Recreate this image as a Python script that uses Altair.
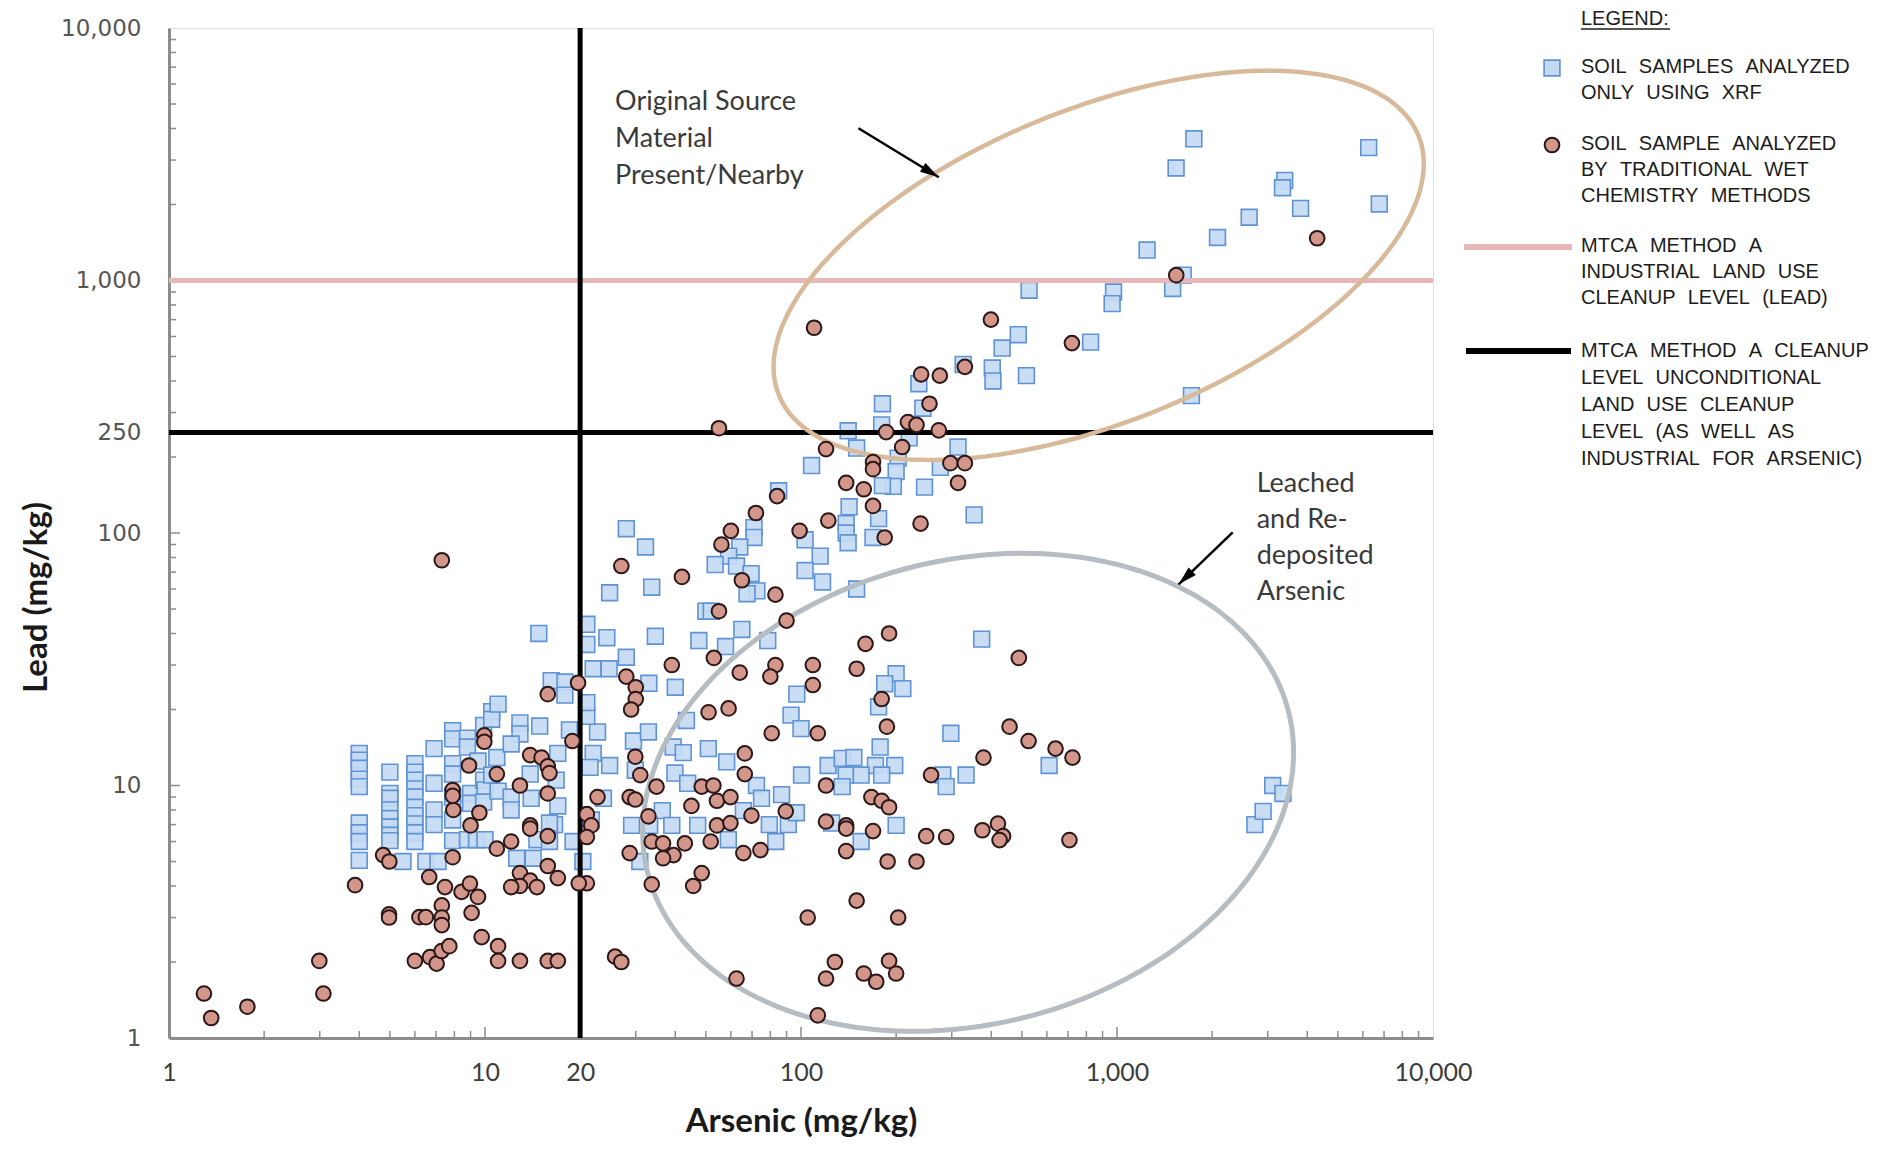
import altair as alt
import pandas as pd
import numpy as np

# ---------------- data (mg/kg) ----------------
# Soil samples analyzed only using XRF: (arsenic, lead)
xrf_samples = [
    (4, 13.4), (4, 12.6), (4, 11.7), (4, 10.6), (4, 9.9), (4, 7.1), (4, 6.5), (4, 6.0), (4, 5.05),
    (5, 11.3), (5, 9.3), (5, 8.9), (5, 8.0), (5, 7.4), (5, 6.85), (5, 6.35), (5, 6.05), (5.5, 5.0),
    (6, 12.2), (6, 11.3), (6, 10.5), (6, 9.7), (6, 9.0), (6, 8.2), (6, 7.6), (6, 7.05), (6, 6.5), (6, 6.0),
    (6.5, 5.0), (7.1, 5.0), (6.9, 14.0), (6.9, 10.2), (6.9, 8.0), (6.9, 7.0),
    (7.9, 16.5), (7.9, 15.3), (7.9, 12.2), (7.9, 11.1), (7.9, 9.0), (7.9, 7.3), (7.9, 6.05),
    (8.8, 15.4), (8.8, 14.2), (9.0, 9.3), (9.0, 8.5), (8.8, 6.1), (9.4, 6.1), (10, 6.1), (9.9, 17.3),
    (10.5, 19.6), (10.5, 18.3), (10.9, 12.9), (9.9, 10.5), (10, 9.6), (9.9, 8.6), (9.5, 12.5),
    (10.5, 11), (11, 9.5), (11, 21),
    (12.9, 17.7), (14.9, 17.2), (12.9, 16.0), (12.1, 14.6), (17, 13.4), (18.5, 16.6), (22.7, 16.3), (21, 18.8),
    (13.9, 11.1), (12.1, 9.0), (12.1, 8.0), (16.8, 10.5), (17, 8.3), (16.6, 7.0), (14, 8.9), (16, 7.1),
    (14.6, 6.1), (16, 6.0), (19, 6.0), (12.6, 5.15), (14.2, 5.15), (20.4, 5.0),
    (22, 13.4), (21.5, 11.8), (24.8, 12.0), (23.7, 8.9), (21.7, 7.3),
    (29.5, 15.0), (32.9, 16.3), (29.9, 11.5), (39.4, 14.2), (42.4, 13.5), (39.9, 11.2), (43.8, 10.2),
    (50.9, 14.0), (58.2, 12.4), (36.4, 7.95), (29.1, 6.95), (33.2, 6.95), (39, 6.95), (47.1, 6.95),
    (58.9, 6.1), (30.9, 5.0), (65.7, 7.95), (72.3, 10), (75, 8.9), (86.8, 9.2), (79.4, 7.0), (91.2, 7.0),
    (83.2, 6.0), (96.7, 7.8), (100.4, 11.0), (121.9, 12.0), (125, 7.1), (43.4, 18.1), (93, 19), (100, 16.8),
    (108, 185), (85, 147), (71, 105), (71, 96), (64, 88), (59, 81), (53.5, 75), (62.5, 74), (69.5, 69),
    (72.5, 59), (67.5, 57.5), (103, 94), (115, 81), (103, 71), (117, 64), (28, 104), (32.2, 88),
    (24.8, 58), (33.7, 61), (50, 49), (52, 49), (14.8, 40), (21, 43.5), (21, 36.2), (24.3, 38.5),
    (34.6, 39), (47.5, 37.5), (57.7, 35.5), (65, 41.5), (78.5, 37.5), (22, 29), (24.7, 29), (28, 32.2),
    (33, 25.4), (40, 24.5), (16.2, 26), (17.9, 25.7), (17.9, 22.8), (21, 21.3), (97, 23),
    (181, 325), (243, 312), (141, 254), (180, 268), (220, 238), (150, 217), (314, 219), (203, 198),
    (200, 175), (196, 153), (181, 154), (276, 182), (246, 152), (142, 127), (176, 114), (139, 109),
    (139, 100), (141, 91.5), (169, 96), (353, 118), (150, 60), (373, 38), (200, 27.7), (184, 25.3),
    (210, 24.2), (176, 20.5),
    (298, 16.1), (135, 12.8), (147, 12.9), (178, 14.2), (198, 12), (172, 12), (139, 11), (155, 11),
    (180, 11), (281, 11), (288, 9.9), (333, 11), (135, 9.9), (200, 6.95), (155, 6.0), (610, 12),
    (527, 915), (487, 610), (433, 540), (326, 465), (403, 450), (405, 400), (517, 420), (236, 390),
    (1751, 3640), (1538, 2790), (6260, 3360), (3395, 2490), (3340, 2330), (3810, 1930), (6760, 2010),
    (2620, 1780), (2080, 1480), (1245, 1320), (975, 900), (965, 810), (1500, 930), (1620, 1050),
    (825, 570), (1720, 350),
    (2730, 7.0), (3110, 10.0), (3350, 9.3), (2900, 7.9),
]

# Soil samples analyzed by traditional wet chemistry methods: (arsenic, lead)
wet_samples = [
    (7.3, 78),
    (1.29, 1.5), (1.36, 1.2), (1.77, 1.33), (2.99, 2.02), (3.08, 1.5), (3.88, 4.03), (4.76, 5.3),
    (4.98, 5.0), (4.97, 3.09), (4.97, 3.0), (6.0, 2.02), (6.7, 2.09), (7.03, 1.97), (7.29, 2.21),
    (7.71, 2.31), (6.2, 3.01), (6.5, 3.01), (7.3, 3.35), (7.3, 3.0), (7.3, 2.8), (6.66, 4.34),
    (7.47, 3.96), (8.43, 3.79), (8.96, 4.09), (9.5, 3.62), (9.07, 3.13), (9.76, 2.51), (11, 2.31),
    (11, 2.02), (10.9, 5.62), (7.9, 5.2), (7.94, 8.0), (7.9, 9.6), (7.9, 9.1), (9.6, 7.8), (9.0, 6.95),
    (8.9, 12.0), (10.9, 11.1), (9.95, 15.8), (9.95, 14.9),
    (13.9, 13.2), (15.1, 12.9), (15.8, 11.9), (16, 11.2), (12.9, 10), (15.8, 9.3), (13.9, 6.95),
    (13.9, 6.75), (15.8, 6.3), (12.1, 6.0), (15.8, 4.8), (12.9, 4.5), (13.9, 4.2), (14.6, 3.96),
    (12.9, 4.0), (12.1, 3.96), (17, 4.3), (18.9, 15.0), (21, 7.7), (21.7, 6.95), (21, 6.25), (21, 4.1),
    (19.8, 4.1), (22.7, 9.0), (29.9, 13), (31, 11), (34.9, 9.9), (28.7, 9.0), (29.9, 8.8), (32.9, 7.55),
    (33.7, 6.0), (36.6, 5.9), (42.9, 5.9), (39.5, 5.3), (36.6, 5.15), (28.7, 5.4), (33.7, 4.06),
    (45, 8.3), (48.5, 9.9), (52.8, 10), (54.2, 8.7), (59.8, 9.0), (54.2, 6.95), (59.8, 7.1), (51.8, 6.0),
    (66.4, 13.4), (66.4, 11.1), (69.7, 7.6), (65.7, 5.4), (74.4, 5.55), (48.5, 4.5), (45.6, 4.0),
    (80.8, 16.1), (113, 16.1), (89.5, 7.9), (120, 10), (120, 7.2), (105, 3.0), (12.9, 2.02),
    (15.8, 2.02), (17, 2.02), (25.8, 2.1), (27, 2.0), (62.5, 1.72), (120, 1.72), (113, 1.23), (128, 2.0),
    (55, 260), (120, 215), (84, 140), (72, 120), (60, 102), (56, 90), (99, 102), (122, 112), (27, 74),
    (42, 67), (65, 65), (83, 57), (55, 49), (90, 45), (53, 32), (39, 30), (64, 28), (83, 30), (80, 27),
    (109, 30), (109, 25), (19.7, 25.5), (15.8, 23), (28, 27), (30, 24.5), (30, 22), (29, 20), (51, 19.5),
    (59, 20.2),
    (255, 325), (218, 275), (232, 268), (186, 251), (273, 255), (209, 219), (169, 191), (169, 179),
    (139, 158), (158, 149), (169, 128), (184, 96), (239, 109), (297, 189), (330, 189), (314, 158),
    (160, 36.4), (190, 40), (150, 29), (180, 22), (489, 32),
    (187, 17.1), (457, 17.1), (525, 15), (639, 14), (723, 12.9), (378, 12.9), (258, 11), (167, 9),
    (180, 8.7), (190, 8.2), (139, 6.95), (139, 6.75), (169, 6.6), (139, 5.5), (249, 6.3), (288, 6.25),
    (375, 6.65), (420, 7.06), (436, 6.3), (425, 6.08), (707, 6.08), (188, 5.0), (232, 5.0), (150, 3.5),
    (203, 3.0), (190, 2.02), (200, 1.8), (158, 1.8), (173, 1.67),
    (110, 650), (399, 700), (240, 425), (275, 420), (330, 455),
    (4300, 1470), (1540, 1050), (720, 565),
]

x_tick_labels = [1, 10, 20, 100, 1000, 10000]
y_tick_labels = [1, 10, 100, 250, 1000, 10000]
lead_industrial_level = 1000   # MTCA Method A industrial (lead)
lead_cleanup_level = 250       # MTCA Method A unconditional (lead)
arsenic_cleanup_level = 20     # MTCA Method A unconditional / industrial (arsenic)

legend_entries = [
    ["SOIL SAMPLES ANALYZED", "ONLY USING XRF"],
    ["SOIL SAMPLE ANALYZED", "BY TRADITIONAL WET", "CHEMISTRY METHODS"],
    ["MTCA METHOD A", "INDUSTRIAL LAND USE", "CLEANUP LEVEL (LEAD)"],
    ["MTCA METHOD A CLEANUP", "LEVEL UNCONDITIONAL", "LAND USE CLEANUP",
     "LEVEL (AS WELL AS", "INDUSTRIAL FOR ARSENIC)"],
]
note_source = ["Original Source", "Material", "Present/Nearby"]
note_leached = ["Leached", "and Re-", "deposited", "Arsenic"]

# annotation anchors (data units)
note_source_at = (25.8, 4720)
note_leached_at = (2767, 146)
arrow_source = (152, 4010, 273, 2564)
arrow_leached = (2323, 100.6, 1567, 62.6)
ellipse_source_center = (875, 1148)
ellipse_leached_center = (338, 9.4)

# ---------------- styles ----------------
W, H = 1264, 1010
SQ_FILL, SQ_STROKE = "#c4daf3", "#5f93d4"
CI_FILL, CI_STROKE = "#d3968b", "#2a1717"
PINK = "#e6b8b7"
TAN = "#d8ba9b"
GREY = "#b5bdc3"

xs = alt.Scale(type="log", domain=[1, 10000], nice=False)
ys = alt.Scale(type="log", domain=[1, 10000], nice=False)

xrf = pd.DataFrame(xrf_samples, columns=["As", "Pb"])
wet = pd.DataFrame(wet_samples, columns=["As", "Pb"])
one = pd.DataFrame({"k": [0]})

x_axis = alt.Axis(values=x_tick_labels, format=",", labelFont="Lato", labelFontSize=25,
                  labelColor="#3c3c3c", labelPadding=22, ticks=False, tickSize=0,
                  domainColor="#8c8c8c", domainWidth=3, grid=False, labelFlush=False,
                  labelOverlap=False, title="Arsenic (mg/kg)", titleFont="Lato",
                  titleFontSize=33, titleFontWeight="bold", titleColor="#1a1a1a",
                  titleY=83, titleBaseline="middle")
y_axis = alt.Axis(values=y_tick_labels, format=",", labelFont="DejaVu Sans", labelFontSize=23,
                  labelColor="#555555", labelPadding=28, ticks=False, tickSize=0,
                  domainColor="#8c8c8c", domainWidth=3, grid=False, labelFlush=False,
                  labelOverlap=False, title="Lead (mg/kg)", titleFont="Lato",
                  titleFontSize=33, titleFontWeight="bold", titleColor="#1a1a1a",
                  titleAngle=270, titleBaseline="middle", titleX=-133, titleY=569)


def X(field="As"):
    return alt.X(f"{field}:Q", scale=xs, axis=x_axis)


def Y(field="Pb"):
    return alt.Y(f"{field}:Q", scale=ys, axis=y_axis)


# axis minor ticks (inside)
dec = [1, 10, 100, 1000]
minor = [m * d for d in dec for m in range(2, 10)]
major = [10, 100, 1000]
TICK = "#8c8c8c"
xt_minor = alt.Chart(pd.DataFrame({"As": minor})).mark_rule(color=TICK, strokeWidth=1.5).encode(
    x=X(), y=alt.value(H), y2=alt.value(H - 7))
xt_major = alt.Chart(pd.DataFrame({"As": major})).mark_rule(color=TICK, strokeWidth=1.5).encode(
    x=X(), y=alt.value(H), y2=alt.value(H - 11))
yt_minor = alt.Chart(pd.DataFrame({"Pb": minor})).mark_rule(color=TICK, strokeWidth=1.5).encode(
    y=Y(), x=alt.value(0), x2=alt.value(7))
yt_major = alt.Chart(pd.DataFrame({"Pb": major})).mark_rule(color=TICK, strokeWidth=1.5).encode(
    y=Y(), x=alt.value(0), x2=alt.value(11))

# reference lines
pink_line = alt.Chart(pd.DataFrame({"Pb": [lead_industrial_level]})).mark_rule(
    color=PINK, strokeWidth=5).encode(y=Y())
black_h = alt.Chart(pd.DataFrame({"Pb": [lead_cleanup_level]})).mark_rule(
    color="black", strokeWidth=5).encode(y=Y())
black_v = alt.Chart(pd.DataFrame({"As": [arsenic_cleanup_level]})).mark_rule(
    color="black", strokeWidth=5).encode(x=X())


# ellipse outlines (annotation shapes, pixel units; symbol size 4 -> scale 1)
def ellipse_path(sxx, syy, sxy, n=160):
    L = np.linalg.cholesky(np.array([[sxx, sxy], [sxy, syy]]))
    t = np.linspace(0, 2 * np.pi, n, endpoint=False)
    p = L @ np.vstack([np.cos(t), np.sin(t)])
    return "M" + " L".join(f"{a:.1f},{b:.1f}" for a, b in p.T) + " Z"


tan_ell = alt.Chart(pd.DataFrame([ellipse_source_center], columns=["As", "Pb"])).mark_point(
    shape=ellipse_path(105700, 37900, -33000), size=4, filled=False, stroke=TAN,
    strokeWidth=4.5, opacity=1).encode(x=X(), y=Y())
grey_ell = alt.Chart(pd.DataFrame([ellipse_leached_center], columns=["As", "Pb"])).mark_point(
    shape=ellipse_path(105950, 57121, -13000), size=4, filled=False, stroke=GREY,
    strokeWidth=5, opacity=1).encode(x=X(), y=Y())

# data points
squares = alt.Chart(xrf).mark_square(size=250, fill=SQ_FILL, stroke=SQ_STROKE, strokeWidth=1.6,
                                     opacity=1, fillOpacity=0.92).encode(x=X(), y=Y())
circles = alt.Chart(wet).mark_circle(size=215, fill=CI_FILL, stroke=CI_STROKE, strokeWidth=2,
                                     opacity=1).encode(x=X(), y=Y())

# arrows
ARROW = "M0,0 L0.5,1.8 L-0.5,1.8 Z"


def arrow(seg, angle):
    d = pd.DataFrame([seg], columns=["As", "Pb", "As2", "Pb2"])
    line = alt.Chart(d).mark_rule(color="black", strokeWidth=2.5).encode(
        x=X(), y=Y(), x2="As2:Q", y2="Pb2:Q")
    head = alt.Chart(d).mark_point(shape=ARROW, size=440, filled=True, color="black",
                                   opacity=1, angle=angle).encode(x=X("As2"), y=Y("Pb2"))
    return [line, head]


arr1 = arrow(arrow_source, 121.5)
arr2 = arrow(arrow_leached, 226)

# annotation notes
src_note = alt.Chart(pd.DataFrame([note_source_at], columns=["As", "Pb"])).mark_text(
    text=note_source, align="left", baseline="alphabetic", font="Lato", fontSize=27,
    lineHeight=37, color="#3a3a3a").encode(x=X(), y=Y())
lea_note = alt.Chart(pd.DataFrame([note_leached_at], columns=["As", "Pb"])).mark_text(
    text=note_leached, align="left", baseline="alphabetic", font="Lato", fontSize=27,
    lineHeight=36, color="#3a3a3a").encode(x=X(), y=Y())

# manual legend (right of the plot)
SP = "\u00a0\u2004"


def spaced(lines):
    return [ln.replace(" ", SP) for ln in lines]


LX = 1412
LG_COLOR = "#1c1c1c"


def legend_text(lines, y, lh=25.8):
    return alt.Chart(one).mark_text(text=lines, align="left", baseline="alphabetic",
                                    font="Liberation Sans", fontSize=20, lineHeight=lh,
                                    color=LG_COLOR).encode(x=alt.value(LX), y=alt.value(y))


legend_layers = [
    legend_text("LEGEND:", -3),
    alt.Chart(one).mark_rule(color=LG_COLOR, strokeWidth=1.5).encode(
        x=alt.value(LX), x2=alt.value(LX + 89), y=alt.value(1)),
    alt.Chart(one).mark_square(size=250, fill=SQ_FILL, stroke=SQ_STROKE, strokeWidth=1.6,
                               opacity=1).encode(x=alt.value(1383), y=alt.value(40)),
    legend_text(spaced(legend_entries[0]), 45),
    alt.Chart(one).mark_circle(size=215, fill=CI_FILL, stroke=CI_STROKE, strokeWidth=2,
                               opacity=1).encode(x=alt.value(1383), y=alt.value(117)),
    legend_text(spaced(legend_entries[1]), 122),
    alt.Chart(one).mark_rule(color=PINK, strokeWidth=6).encode(
        x=alt.value(1295), x2=alt.value(1403), y=alt.value(219)),
    legend_text(spaced(legend_entries[2]), 224),
    alt.Chart(one).mark_rule(color="black", strokeWidth=6).encode(
        x=alt.value(1297), x2=alt.value(1402), y=alt.value(323)),
    legend_text(spaced(legend_entries[3]), 329, lh=27),
]

chart = alt.layer(
    squares, xt_minor, xt_major, yt_minor, yt_major,
    pink_line, black_h, black_v, tan_ell, grey_ell,
    circles, *arr1, *arr2, src_note, lea_note, *legend_layers,
).properties(
    width=W, height=H,
    autosize=alt.AutoSizeParams(type="none"),
    padding={"left": 161, "top": 20, "right": 449, "bottom": 104},
).configure_view(stroke="#222222", strokeWidth=1.5).configure(background="white")

chart.save("out.html", embed_options={"renderer": "svg", "actions": False})
